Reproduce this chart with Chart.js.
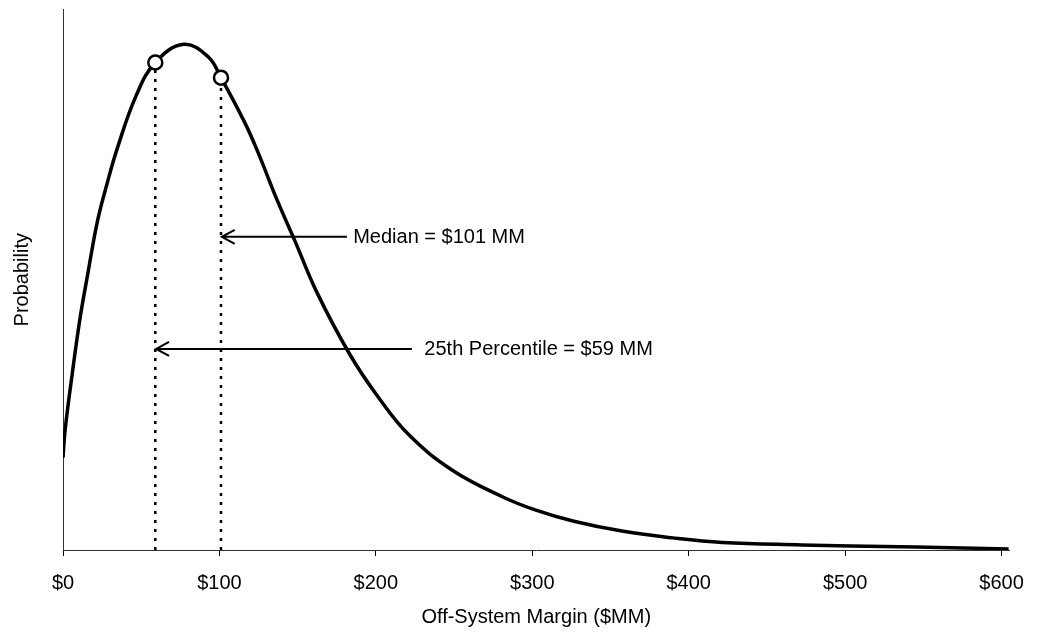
<!DOCTYPE html>
<html>
<head>
<meta charset="utf-8">
<script src="https://cdn.jsdelivr.net/npm/chart.js@4/dist/chart.umd.min.js"></script>
<style>
  html, body { margin: 0; padding: 0; background: #fff; }
  #wrap { width: 1039px; height: 640px; }
</style>
</head>
<body>
<div id="wrap"><canvas id="probChart" width="1039" height="640"></canvas></div>
<script>
// Off-system margin ($MM) vs relative probability
const marginX = [0, 1.3, 5.7, 10.7, 15.8, 22.1, 27.8, 34.7, 46.7, 59, 77.1, 92.9, 101, 116.2, 124.4,
  137.1, 148.5, 162.3, 183.2, 200.3, 221.1, 248.9, 280.5, 301.3, 326.6, 358.2, 389.8, 421.4,
  471.9, 503.5, 545.8, 604.5];
const probY = [18.3, 23.6, 34.4, 45.5, 54.6, 65.2, 72.1, 79.5, 89.9, 96.5, 100.1, 97.6, 93.5, 84.6, 78.9,
  69.1, 61.0, 51.0, 38.8, 30.8, 22.8, 15.8, 10.6, 8.0, 5.7, 3.7, 2.4, 1.5,
  1.0, 0.8, 0.6, 0.2];

// marked statistics
const statNames = ['25th Percentile', 'Median'];
const statX = [59, 101];
const statY = [96.5, 93.5];

// callout labels: text, arrow start, arrow tip, height
const calloutText = ['Median = $101 MM', '25th Percentile = $59 MM'];
const calloutFromX = [181.5, 223];
const calloutToX = [101.5, 59.5];
const calloutY = [62, 39.8];
const calloutTextX = [185.5, 231];

const xTicks = [0, 100, 200, 300, 400, 500, 600];

const FONT = '"Liberation Sans", Arial, sans-serif';

// callout arrows + text drawn on top of the chart
const calloutPlugin = {
  id: 'callouts',
  afterDatasetsDraw(chart) {
    const { ctx, scales: { x, y } } = chart;
    ctx.save();
    ctx.strokeStyle = '#000';
    ctx.fillStyle = '#000';
    ctx.lineWidth = 2;
    ctx.font = '20px ' + FONT;
    ctx.textBaseline = 'middle';
    ctx.textAlign = 'left';
    calloutText.forEach((txt, i) => {
      const x0 = x.getPixelForValue(calloutFromX[i]);
      const x1 = x.getPixelForValue(calloutToX[i]);
      const py = y.getPixelForValue(calloutY[i]);
      ctx.beginPath();
      ctx.moveTo(x0, py);
      ctx.lineTo(x1, py);
      ctx.moveTo(x1 + 13, py - 7);
      ctx.lineTo(x1, py);
      ctx.lineTo(x1 + 13, py + 7);
      ctx.stroke();
      ctx.fillText(txt, x.getPixelForValue(calloutTextX[i]), py + 1);
    });
    ctx.restore();
  }
};

// dotted drop lines from the marked points to the axis
const dropLines = statX.map((v, i) => ({
  label: statNames[i] + ' line',
  data: [{ x: v, y: 0 }, { x: v, y: statY[i] }],
  borderColor: '#000',
  borderWidth: 2.5,
  borderDash: [3, 6],
  pointRadius: 0,
  fill: false,
  order: 3
}));

const ctx = document.getElementById('probChart').getContext('2d');
const probChart = new Chart(ctx, {
  type: 'line',
  data: {
    datasets: [
      {
        label: 'Probability',
        data: marginX.map((v, i) => ({ x: v, y: probY[i] })),
        borderColor: '#000',
        borderWidth: 3.5,
        pointRadius: 0,
        tension: 0.4,
        fill: false,
        order: 2
      },
      {
        label: 'Statistics',
        data: statX.map((v, i) => ({ x: v, y: statY[i] })),
        showLine: false,
        pointRadius: 7,
        pointBackgroundColor: '#fff',
        pointBorderColor: '#000',
        pointBorderWidth: 2.5,
        order: 1
      },
      ...dropLines
    ]
  },
  options: {
    responsive: false,
    animation: false,
    layout: { padding: { left: 10, right: 18, top: 5, bottom: 6 } },
    scales: {
      x: {
        type: 'linear',
        min: 0,
        max: 605,
        afterFit: (scale) => { scale.height = 84; },
        afterBuildTicks: (scale) => { scale.ticks = xTicks.map(v => ({ value: v })); },
        ticks: {
          includeBounds: false,
          padding: 15,
          color: '#000',
          font: { family: FONT, size: 20 },
          callback: (v) => '$' + v
        },
        grid: { drawOnChartArea: false, tickLength: 6, color: '#000' },
        border: { color: '#333', width: 1 },
        title: {
          display: true,
          text: 'Off-System Margin ($MM)',
          color: '#000',
          font: { family: FONT, size: 20 },
          padding: { top: 0, bottom: 5 }
        }
      },
      y: {
        min: 0,
        max: 107,
        afterFit: (scale) => { scale.width = 53; },
        ticks: { display: false },
        grid: { display: false },
        border: { color: '#333', width: 1 },
        title: {
          display: true,
          text: 'Probability',
          color: '#000',
          font: { family: FONT, size: 20 },
          padding: { top: 0, bottom: 0 }
        }
      }
    },
    plugins: {
      legend: { display: false },
      tooltip: { enabled: false }
    }
  },
  plugins: [calloutPlugin]
});
</script>
</body>
</html>
